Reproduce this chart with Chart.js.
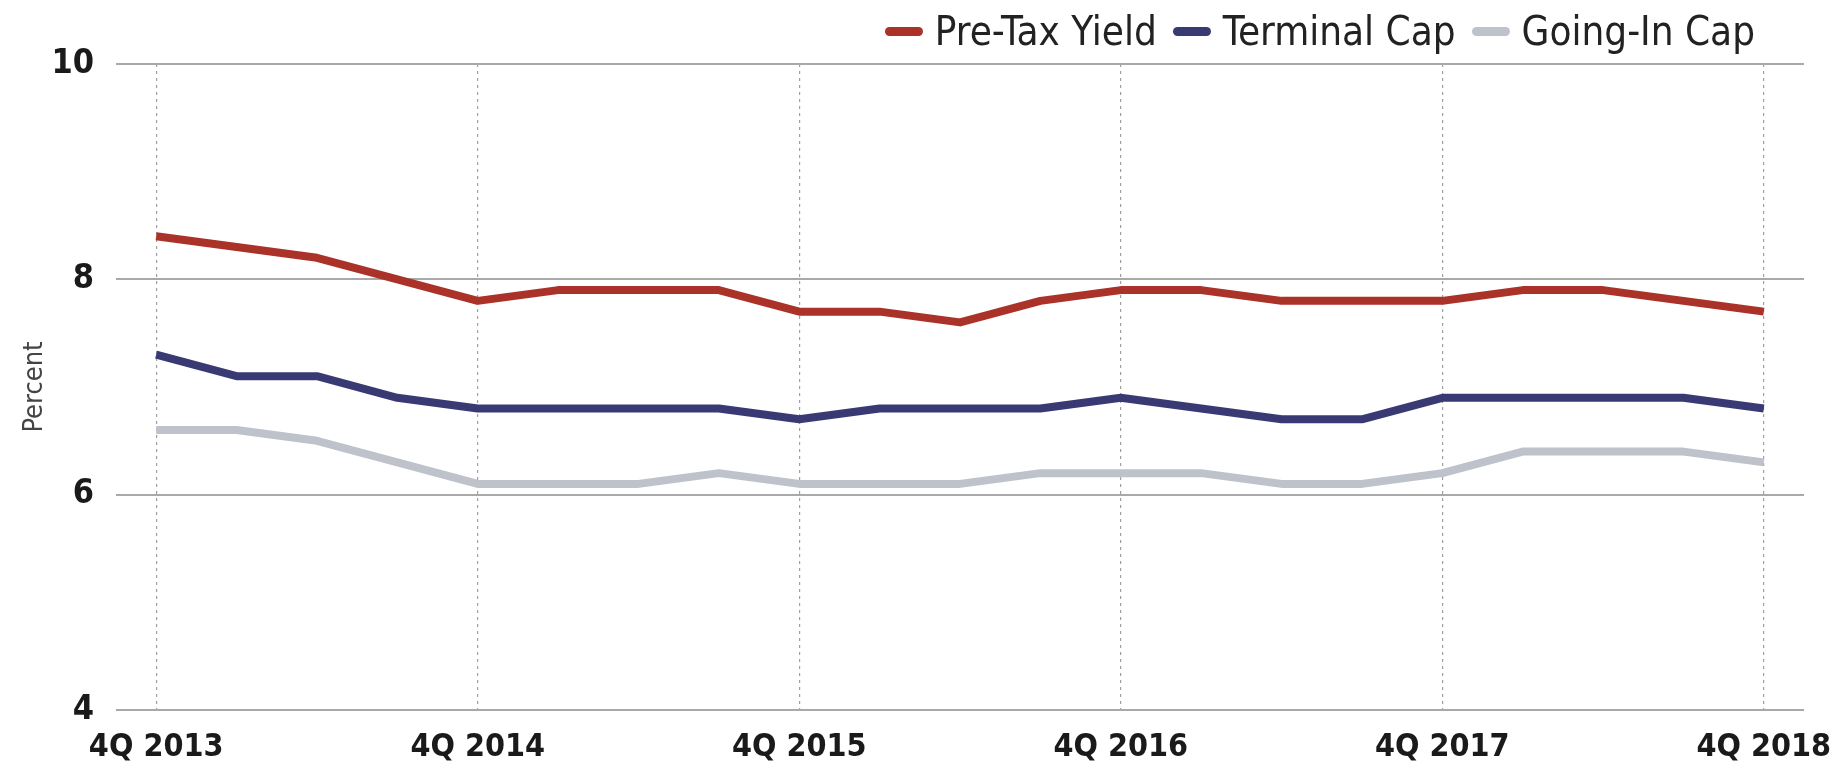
<!DOCTYPE html>
<html lang="en">

<head>
    <meta charset="UTF-8">
    <title>Pre-Tax Yield, Terminal Cap and Going-In Cap</title>
    <script src="https://cdn.jsdelivr.net/npm/chart.js"></script>
    <style>
        body {
            margin: 0;
            padding: 0;
            background: #ffffff;
            font-family: 'Liberation Sans Narrow', 'DejaVu Sans Condensed', 'Roboto', sans-serif;
        }

        .wrap {
            position: relative;
            width: 1831px;
            height: 769px;
        }

        .legend {
            position: absolute;
            top: 8px;
            right: 76px;
            display: flex;
            align-items: center;
            font-size: 40px;
            color: #222222;
        }

        .legend .item {
            display: flex;
            align-items: center;
            margin-left: 16px;
        }

        .legend .swatch {
            width: 38px;
            height: 9px;
            border-radius: 5px;
            margin-right: 12px;
        }
    </style>
</head>

<body>
    <div class="wrap">
        <canvas id="yieldChart" width="1831" height="769"></canvas>
        <div class="legend" id="legend"></div>
    </div>

    <script>
        // quarters, 4Q 2013 .. 4Q 2018
        const quarters = [
            '4Q 2013', '1Q 2014', '2Q 2014', '3Q 2014',
            '4Q 2014', '1Q 2015', '2Q 2015', '3Q 2015',
            '4Q 2015', '1Q 2016', '2Q 2016', '3Q 2016',
            '4Q 2016', '1Q 2017', '2Q 2017', '3Q 2017',
            '4Q 2017', '1Q 2018', '2Q 2018', '3Q 2018',
            '4Q 2018'
        ];

        const preTaxYield = [8.4, 8.3, 8.2, 8.0, 7.8, 7.9, 7.9, 7.9, 7.7, 7.7, 7.6, 7.8, 7.9, 7.9, 7.8, 7.8, 7.8, 7.9, 7.9, 7.8, 7.7];
        const terminalCap = [7.3, 7.1, 7.1, 6.9, 6.8, 6.8, 6.8, 6.8, 6.7, 6.8, 6.8, 6.8, 6.9, 6.8, 6.7, 6.7, 6.9, 6.9, 6.9, 6.9, 6.8];
        const goingInCap = [6.6, 6.6, 6.5, 6.3, 6.1, 6.1, 6.1, 6.2, 6.1, 6.1, 6.1, 6.2, 6.2, 6.2, 6.1, 6.1, 6.2, 6.4, 6.4, 6.4, 6.3];

        const yTicks = [4, 6, 8, 10];

        const series = [
            { label: 'Pre-Tax Yield', data: preTaxYield, color: '#aa3228' },
            { label: 'Terminal Cap', data: terminalCap, color: '#393a74' },
            { label: 'Going-In Cap', data: goingInCap, color: '#bdc2cb' }
        ];

        const fontFamily = "'Liberation Sans Narrow', 'DejaVu Sans Condensed', 'Roboto', sans-serif";

        // html legend
        const legendEl = document.getElementById('legend');
        series.forEach(s => {
            const item = document.createElement('div');
            item.className = 'item';
            item.innerHTML = `<span class="swatch" style="background:${s.color}"></span><span>${s.label}</span>`;
            legendEl.appendChild(item);
        });

        const ctx = document.getElementById('yieldChart').getContext('2d');
        const chart = new Chart(ctx, {
            type: 'line',
            data: {
                labels: quarters,
                datasets: series.map(s => ({
                    label: s.label,
                    data: s.data,
                    borderColor: s.color,
                    backgroundColor: s.color,
                    borderWidth: 8,
                    borderJoinStyle: 'round',
                    pointRadius: 0,
                    tension: 0,
                    fill: false
                }))
            },
            options: {
                responsive: false,
                animation: false,
                layout: {
                    padding: { top: 64, right: 27, left: 0, bottom: 0 }
                },
                plugins: {
                    legend: { display: false },
                    tooltip: { enabled: false }
                },
                scales: {
                    x: {
                        offset: true,
                        afterFit: scale => {
                            scale.height = 59;
                            // let the last label hang into the right margin
                            scale.paddingRight = 0;
                        },
                        grid: {
                            drawTicks: false,
                            lineWidth: 1.2,
                            color: c => (c.index % 4 === 0 ? '#a0a0a0' : 'rgba(0,0,0,0)')
                        },
                        border: { display: false, dash: [3, 4] },
                        ticks: {
                            autoSkip: false,
                            maxRotation: 0,
                            padding: 18,
                            color: '#1a1a1a',
                            font: { family: fontFamily, size: 32, weight: 'bold' },
                            callback: function (value, index) {
                                return index % 4 === 0 ? quarters[index] : '';
                            }
                        }
                    },
                    y: {
                        min: yTicks[0],
                        max: yTicks[yTicks.length - 1],
                        afterFit: scale => { scale.width = 116; },
                        afterBuildTicks: scale => { scale.ticks = yTicks.map(v => ({ value: v })); },
                        grid: {
                            drawTicks: false,
                            lineWidth: 2,
                            color: '#a9a9a9'
                        },
                        border: { display: false },
                        ticks: {
                            padding: 22,
                            color: '#1a1a1a',
                            font: { family: fontFamily, size: 34, weight: 'bold' }
                        },
                        title: {
                            display: true,
                            text: 'Percent',
                            color: '#444444',
                            padding: { top: 19, bottom: 0 },
                            font: { family: fontFamily, size: 27 }
                        }
                    }
                }
            }
        });
    </script>
</body>

</html>
